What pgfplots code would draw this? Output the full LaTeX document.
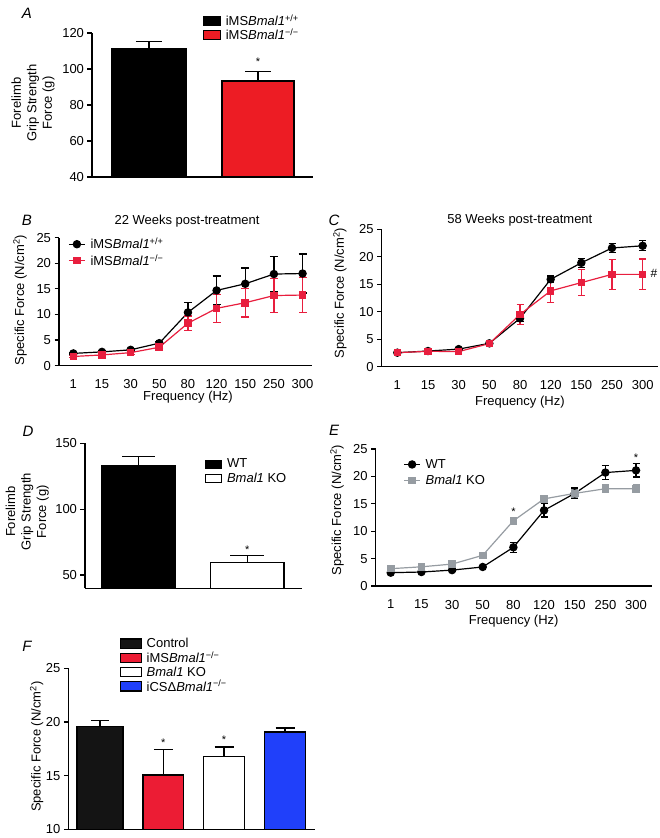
\documentclass[border=0pt]{standalone}
\usepackage{fontspec}
\setmainfont{Liberation Sans}
\usepackage{pgfplots}
\pgfplotsset{compat=1.18}
\definecolor{redA}{RGB}{237,28,36}
\definecolor{redB}{RGB}{232,30,62}
\definecolor{redF}{RGB}{236,28,52}
\definecolor{blueF}{RGB}{32,64,250}
\definecolor{grayE}{RGB}{150,156,162}
\newcommand{\fs}{\fontsize{13}{15.5}\selectfont}
\tikzset{starnode/.style={font=\fontsize{11}{12}\selectfont, anchor=base, yshift=-6.3pt}}
\pgfplotsset{
  base/.style={
    scale only axis, anchor=south west,
    axis x line*=bottom, axis y line*=left,
    axis line style={line width=1.2pt},
    every tick/.style={line width=1.2pt, black},
    tick align=outside, major tick length=4.5pt,
    xtick style={draw=none},
    font=\fs,
    /pgf/number format/assume math mode=true,
    legend cell align=left,
    legend style={draw=none, fill=none, inner sep=0pt, anchor=north west, font=\fs, nodes={inner sep=1pt}, row sep=-1pt, column sep=4pt},
    every axis y label/.style={rotate=90, anchor=center, align=center, font=\fs},
    every axis x label/.style={anchor=center, font=\fs},
    every axis title/.style={anchor=center, font=\fs},
  },
  barleg/.style 2 args={legend image code/.code={\draw[##1, line width=1.1pt, draw=black] (0pt,-#2) rectangle (#1,#2);}},
  lineleg/.style={legend image code/.code={\draw[##1, mark repeat=2, mark phase=2] plot coordinates {(0pt,0pt) (8pt,0pt) (16pt,0pt)};}},
  barerr/.style={error bars/.cd, y dir=plus, y explicit, error bar style={line width=1.2pt, black}, error mark options={rotate=90, line width=1.2pt, black, mark size=#1}},
  lineerr/.style={error bars/.cd, y dir=both, y explicit, error bar style={line width=1.2pt, solid}, error mark options={rotate=90, line width=1.2pt, mark size=#1}},
}
\begin{document}
\begin{tikzpicture}
\useasboundingbox (0,0) rectangle (660pt,838pt);

% ---------------- Panel A
\begin{axis}[base, at={(92pt,661pt)}, width=221pt, height=144pt,
  xmin=0, xmax=221, ymin=40, ymax=120, ytick={40,60,80,100,120}, xtick=\empty,
  ylabel={Forelimb\\Grip Strength\\Force (g)},
  ylabel style={at={(axis description cs:-0.267,0.514)}},
  legend style={at={(axis description cs:0.5,1.134)}, row sep=-0.5pt},
  ybar, barleg={17pt}{4.8pt}]
\addplot[fill=black, draw=black, line width=1.2pt, bar width=74pt, bar shift=0pt, barerr=13pt] coordinates {(57,111.5) +- (0,3.7)};
\addplot[fill=redA, draw=black, line width=1.2pt, bar width=72pt, bar shift=0pt, barerr=13pt] coordinates {(166,93.3) +- (0,5.5)};
\legend{iMS\textit{Bmal1}\textsuperscript{+/+}, iMS\textit{Bmal1}\textsuperscript{−/−}}
\node[starnode] at (axis cs:166,105.5) {*};
\end{axis}

% ---------------- Panel B
\begin{axis}[base, at={(59pt,472.3pt)}, width=253pt, height=128pt,
  xmin=-0.5, xmax=8.33, ymin=0, ymax=25, ytick={0,5,10,15,20,25},
  xtick={0,...,8}, xticklabels={1,15,30,50,80,120,150,250,300},
  xticklabel style={yshift=-6pt},
  ylabel={Specific Force (N/cm\textsuperscript{2})}, ylabel style={at={(axis description cs:-0.154,0.513)}},
  xlabel={Frequency (Hz)}, xlabel style={at={(axis description cs:0.51,-0.245)}},
  title={22 Weeks post-treatment}, title style={at={(axis description cs:0.506,1.133)}},
  lineleg, legend style={at={(axis description cs:0.036,1.007)}, row sep=2pt},
  clip=false]
\addplot[black, line width=1.2pt, mark=*, mark size=3.6pt, mark options={solid}, lineerr=4pt]
 coordinates {(0,2.4) +- (0,0.2) (1,2.7) +- (0,0.2) (2,3.1) +- (0,0.2) (3,4.4) +- (0,0.3) (4,10.4) +- (0,2.0) (5,14.7) +- (0,2.8) (6,16.0) +- (0,3.1) (7,17.9) +- (0,3.5) (8,18.0) +- (0,3.8)};
\addplot[redB, line width=1.2pt, mark=square*, mark size=3.2pt, mark options={solid}, lineerr=4pt]
 coordinates {(0,1.8) +- (0,0.2) (1,2.1) +- (0,0.2) (2,2.55) +- (0,0.3) (3,3.6) +- (0,0.3) (4,8.3) +- (0,1.4) (5,11.2) +- (0,2.7) (6,12.3) +- (0,2.8) (7,13.7) +- (0,3.3) (8,13.8) +- (0,3.4)};
\legend{iMS\textit{Bmal1}\textsuperscript{+/+}, iMS\textit{Bmal1}\textsuperscript{−/−}}
\end{axis}

% ---------------- Panel C
\begin{axis}[base, at={(381.7pt,471.3pt)}, width=276.3pt, height=137.4pt,
  xmin=-0.51, xmax=8.5, ymin=0, ymax=25, ytick={0,5,10,15,20,25},
  xtick={0,...,8}, xticklabels={1,15,30,50,80,120,150,250,300},
  xticklabel style={yshift=-6pt},
  ylabel={Specific Force (N/cm\textsuperscript{2})}, ylabel style={at={(axis description cs:-0.151,0.536)}},
  xlabel={Frequency (Hz)}, xlabel style={at={(axis description cs:0.5,-0.255)}},
  title={58 Weeks post-treatment}, title style={at={(axis description cs:0.5,1.063)}},
  clip=false]
\addplot[black, line width=1.2pt, mark=*, mark size=3.6pt, mark options={solid}, lineerr=3.5pt]
 coordinates {(0,2.55) +- (0,0.2) (1,2.85) +- (0,0.2) (2,3.2) +- (0,0.2) (3,4.25) +- (0,0.3) (4,8.8) +- (0,0.6) (5,15.9) +- (0,0.6) (6,18.9) +- (0,0.8) (7,21.6) +- (0,0.8) (8,22.0) +- (0,0.9)};
\addplot[redB, line width=1.2pt, mark=square*, mark size=3.2pt, mark options={solid}, lineerr=3.5pt]
 coordinates {(0,2.55) +- (0,0.2) (1,2.8) +- (0,0.2) (2,2.75) +- (0,0.3) (3,4.2) +- (0,0.4) (4,9.5) +- (0,1.8) (5,13.8) +- (0,2.1) (6,15.3) +- (0,2.4) (7,16.8) +- (0,2.7) (8,16.8) +- (0,2.8)};
\node[anchor=center, font=\fontsize{12}{14}\selectfont] at (axis cs:8.37,17.0) {\#};
\end{axis}

% ---------------- Panel D
\begin{axis}[base, at={(85pt,249.8pt)}, width=216.7pt, height=144.9pt,
  xmin=0, xmax=216.7, ymin=40, ymax=150, ytick={50,100,150}, xtick=\empty,
  ylabel={Forelimb\\Grip Strength\\Force (g)},
  ylabel style={at={(axis description cs:-0.266,0.528)}},
  legend style={at={(axis description cs:0.554,0.9)}, row sep=2pt},
  ybar, barleg={15.7pt}{4pt}]
\addplot[fill=black, draw=black, line width=1.2pt, bar width=74pt, bar shift=0pt, barerr=16.5pt] coordinates {(53.7,132.8) +- (0,7.0)};
\addplot[fill=white, draw=black, line width=1.2pt, bar width=73.3pt, bar shift=0pt, barerr=17pt] coordinates {(162.3,59.5) +- (0,5.1)};
\legend{WT, \textit{Bmal1} KO}
\node[starnode] at (axis cs:162.3,71.5) {*};
\end{axis}

% ---------------- Panel E
\begin{axis}[base, at={(375.7pt,252pt)}, width=276pt, height=137pt,
  xmin=-0.49, xmax=8.51, ymin=0, ymax=25, ytick={0,5,10,15,20,25},
  xtick={0,...,8}, xticklabels={1,15,30,50,80,120,150,250,300},
  xticklabel style={yshift=-6pt},
  ylabel={Specific Force (N/cm\textsuperscript{2})}, ylabel style={at={(axis description cs:-0.14,0.555)}},
  xlabel={Frequency (Hz)}, xlabel style={at={(axis description cs:0.5,-0.255)}},
  lineleg, legend style={at={(axis description cs:0.1,0.934)}, row sep=3.5pt},
  clip=false]
\addplot[black, line width=1.2pt, mark=*, mark size=3.6pt, mark options={solid}, lineerr=3.5pt]
 coordinates {(0,2.43) +- (0,0.15) (1,2.55) +- (0,0.15) (2,2.9) +- (0,0.2) (3,3.47) +- (0,0.2) (4,7.06) +- (0,0.9) (5,13.8) +- (0,1.2) (6,16.9) +- (0,1.0) (7,20.7) +- (0,1.3) (8,21.1) +- (0,1.2)};
\addplot[grayE, line width=1.2pt, mark=square*, mark size=3.2pt, mark options={solid}, lineerr=3.5pt]
 coordinates {(0,3.16) +- (0,0.1) (1,3.5) +- (0,0.1) (2,4.0) +- (0,0.15) (3,5.6) +- (0,0.2) (4,11.9) +- (0,0.3) (5,15.9) +- (0,0.5) (6,16.9) +- (0,0.7) (7,17.75) +- (0,0.7) (8,17.75) +- (0,0.7)};
\legend{WT, \textit{Bmal1} KO}
\node[starnode] at (axis cs:4,14.05) {*};
\node[starnode] at (axis cs:8,23.9) {*};
\end{axis}

% ---------------- Panel F
\begin{axis}[base, at={(68.3pt,8.7pt)}, width=246.7pt, height=161pt,
  xmin=0, xmax=246.7, ymin=10, ymax=25, ytick={10,15,20,25}, xtick=\empty,
  ylabel={Specific Force (N/cm\textsuperscript{2})},
  ylabel style={at={(axis description cs:-0.128,0.513)}},
  legend style={at={(axis description cs:0.207,1.194)}, row sep=0.5pt},
  ybar, barleg={21pt}{4.7pt}]
\addplot[fill=black!92, draw=black, line width=1.2pt, bar width=46pt, bar shift=0pt, barerr=9pt] coordinates {(31.7,19.55) +- (0,0.55)};
\addplot[fill=redF, draw=black, line width=1.2pt, bar width=40.5pt, bar shift=0pt, barerr=9.5pt] coordinates {(95,15.05) +- (0,2.35)};
\addplot[fill=white, draw=black, line width=1.2pt, bar width=40.5pt, bar shift=0pt, barerr=9.5pt] coordinates {(155.7,16.8) +- (0,0.87)};
\addplot[fill=blueF, draw=black, line width=1.2pt, bar width=40.5pt, bar shift=0pt, barerr=9.5pt] coordinates {(216.7,19.07) +- (0,0.37)};
\legend{Control, iMS\textit{Bmal1}\textsuperscript{−/−}, \textit{Bmal1} KO, iCSΔ\textit{Bmal1}\textsuperscript{−/−}}
\node[starnode] at (axis cs:95,18.3) {*};
\node[starnode] at (axis cs:155.7,18.6) {*};
\end{axis}

% panel letters
\begin{scope}[every node/.style={font=\fontsize{15}{18}\selectfont\itshape, anchor=center}]
\node at (27pt,825pt) {A};
\node at (27pt,617.3pt) {B};
\node at (334pt,617.3pt) {C};
\node at (28pt,406.3pt) {D};
\node at (334pt,408pt) {E};
\node at (27pt,191.3pt) {F};
\end{scope}
\end{tikzpicture}
\end{document}
